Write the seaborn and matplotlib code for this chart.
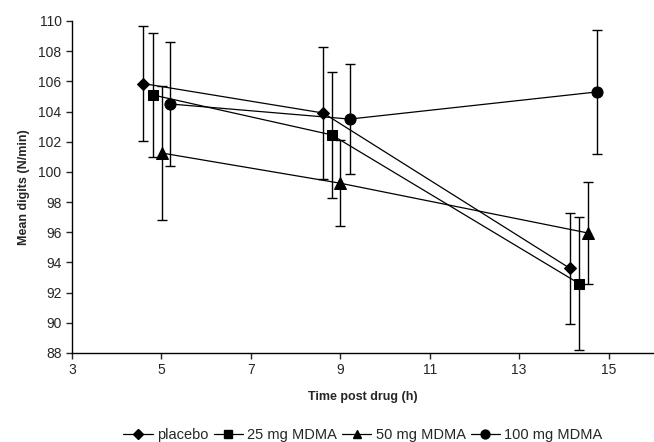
import numpy as np
import pandas as pd
import matplotlib
matplotlib.use('Agg')
import matplotlib.pyplot as plt
import seaborn as sns

# data
groups = ['placebo', '25 mg MDMA', '50 mg MDMA', '100 mg MDMA']
markers = ['D', 's', '^', 'o']
msizes = [6, 7.5, 8, 8]

time_placebo = [4.60, 8.62, 14.14]
time_25 = [4.81, 8.81, 14.34]
time_50 = [5.01, 9.00, 14.54]
time_100 = [5.20, 9.21, 14.74]

mean_placebo = [105.85, 103.9, 93.6]
mean_25 = [105.1, 102.45, 92.6]
mean_50 = [101.25, 99.25, 95.95]
mean_100 = [104.5, 103.5, 105.3]

err_placebo = [3.8, 4.4, 3.7]
err_25 = [4.1, 4.15, 4.4]
err_50 = [4.45, 2.85, 3.35]
err_100 = [4.1, 3.65, 4.1]

times = [time_placebo, time_25, time_50, time_100]
means = [mean_placebo, mean_25, mean_50, mean_100]
errs = [err_placebo, err_25, err_50, err_100]

rows = []
for g, t, m, e in zip(groups, times, means, errs):
    for ti, mi, ei in zip(t, m, e):
        rows.append({'group': g, 'time': ti, 'mean': mi, 'err': ei})
df = pd.DataFrame(rows)

sns.set_style('ticks')
plt.rcParams['font.family'] = ['Liberation Sans', 'DejaVu Sans']

fig = plt.figure(figsize=(6.54, 4.42), dpi=100)
ax = fig.add_axes([0.110, 0.2014, 0.889, 0.7511])

sns.lineplot(data=df, x='time', y='mean', hue='group', style='group',
             palette=['black'] * 4, markers=dict(zip(groups, markers)),
             dashes=False, linewidth=0.9, markeredgecolor='black',
             legend=False, ax=ax, estimator=None, sort=False)

# resize markers per group
for line, ms in zip(ax.get_lines(), msizes):
    line.set_markersize(ms)

for g in groups:
    sub = df[df['group'] == g]
    ax.errorbar(sub['time'], sub['mean'], yerr=sub['err'], fmt='none',
                ecolor='black', elinewidth=1.0, capsize=3.5, capthick=1.0)

ax.set_xlim(3, 16)
ax.set_ylim(88, 110)
ax.set_xticks(range(3, 16, 2))
ax.set_yticks(range(88, 111, 2))
ax.tick_params(axis='both', labelsize=10, length=4, width=1, direction='out')
ax.set_xlabel('Time post drug (h)', fontsize=9, fontweight='bold', labelpad=10)
ax.set_ylabel('Mean digits (N/min)', fontsize=9, fontweight='bold', labelpad=6)
sns.despine(ax=ax)
for s in ['left', 'bottom']:
    ax.spines[s].set_linewidth(1.0)
    ax.spines[s].set_color('black')

handles = [plt.Line2D([], [], color='black', lw=0.9, marker=mk, markersize=ms * 0.8)
           for mk, ms in zip(markers, msizes)]
fig.legend(handles, groups, loc='lower center', bbox_to_anchor=(0.555, -0.03),
           ncol=4, frameon=False, fontsize=10.5, handlelength=2.0,
           handletextpad=0.3, columnspacing=0.35)

fig.savefig('out.png', dpi=100)
